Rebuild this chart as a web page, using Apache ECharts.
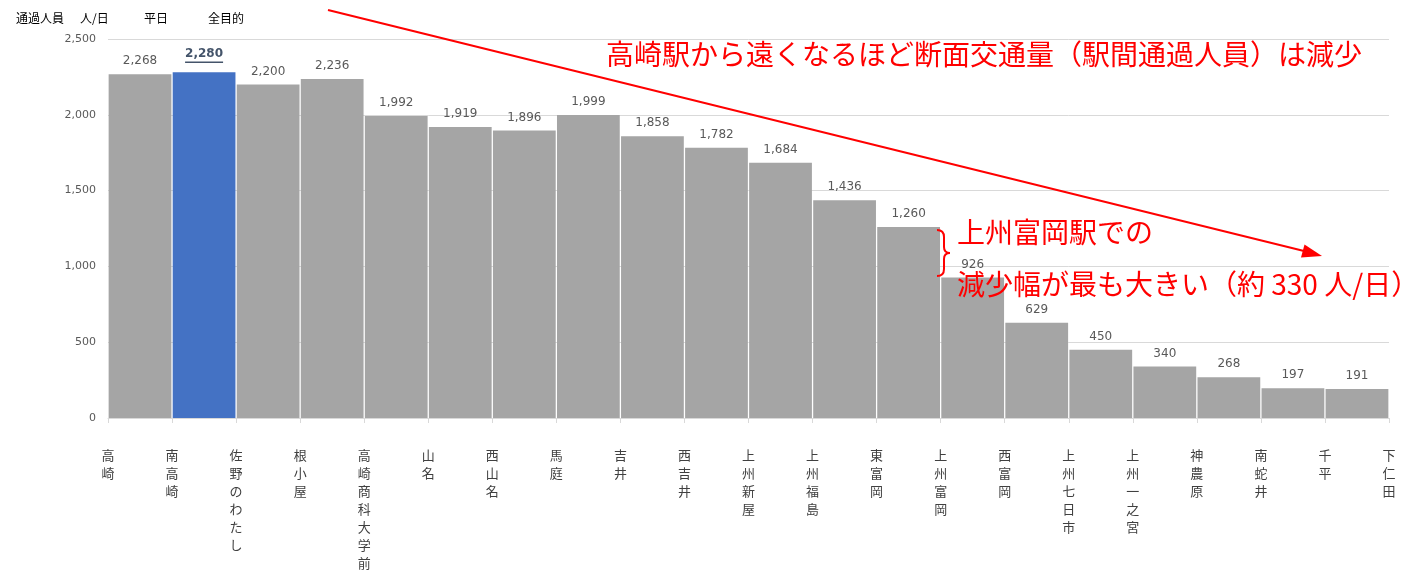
<!DOCTYPE html>
<html>
<head>
<meta charset="utf-8">
<script src="https://cdn.jsdelivr.net/npm/echarts@6/dist/echarts.min.js"></script>
<style>
  html, body { margin: 0; padding: 0; background: #fff; }
  #chart { width: 1408px; height: 571px; }
</style>
</head>
<body>
<div id="chart"></div>
<script>
  // 駅名（境界に表示）
  var stations = ['高崎', '南高崎', '佐野のわたし', '根小屋', '高崎商科大学前', '山名', '西山名', '馬庭', '吉井',
    '西吉井', '上州新屋', '上州福島', '東富岡', '上州富岡', '西富岡', '上州七日市', '上州一之宮', '神農原',
    '南蛇井', '千平', '下仁田'];
  // 駅間（バー）
  var sections = ['s1', 's2', 's3', 's4', 's5', 's6', 's7', 's8', 's9', 's10',
    's11', 's12', 's13', 's14', 's15', 's16', 's17', 's18', 's19', 's20'];
  var passengers = [2268, 2280, 2200, 2236, 1992, 1919, 1896, 1999, 1858, 1782,
    1684, 1436, 1260, 926, 629, 450, 340, 268, 197, 191];
  var highlightIndex = 1;
  var yTicks = { min: 0, max: 2500, interval: 500 };

  var FONT = '"Noto Sans CJK JP", "Noto Sans", sans-serif';
  var NUMFONT = '"DejaVu Sans", sans-serif';
  var RED = '#FF0000';

  function comma(v) {
    return String(v).replace(/\B(?=(\d{3})+(?!\d))/g, ',');
  }

  var barData = passengers.map(function (v, i) {
    if (i !== highlightIndex) return v;
    return {
      value: v,
      itemStyle: { color: '#4472C4' },
      label: {
        distance: 9,
        formatter: '{a|' + comma(v) + '}\n{u|}',
        rich: {
          a: { fontSize: 12, fontWeight: 'bold', color: '#44546A', fontFamily: NUMFONT, lineHeight: 15 },
          u: { width: 38, height: 1.5, backgroundColor: '#44546A', lineHeight: 2 }
        }
      }
    };
  });

  // 波かっこ
  function brace() {
    var st = { stroke: RED, lineWidth: 2, fill: null };
    return [
      { type: 'bezierCurve', z: 10, shape: { x1: 937, y1: 230, cpx1: 944, cpy1: 230, x2: 944, y2: 237 }, style: st },
      { type: 'line', z: 10, shape: { x1: 944, y1: 237, x2: 944, y2: 247 }, style: st },
      { type: 'bezierCurve', z: 10, shape: { x1: 944, y1: 247, cpx1: 944, cpy1: 253, x2: 950, y2: 253 }, style: st },
      { type: 'bezierCurve', z: 10, shape: { x1: 950, y1: 253, cpx1: 944, cpy1: 253, x2: 944, y2: 259 }, style: st },
      { type: 'line', z: 10, shape: { x1: 944, y1: 259, x2: 944, y2: 269 }, style: st },
      { type: 'bezierCurve', z: 10, shape: { x1: 944, y1: 269, cpx1: 944, cpy1: 276, x2: 937, y2: 276 }, style: st }
    ];
  }

  var myChart = echarts.init(document.getElementById('chart'));
  myChart.setOption({
    animation: false,
    backgroundColor: '#ffffff',
    grid: { left: 108, right: 19, top: 39, bottom: 153, outerBoundsMode: 'none', containLabel: false },
    xAxis: [{
      type: 'category',
      data: sections,
      axisLine: { lineStyle: { color: '#D9D9D9' } },
      axisTick: { show: true, length: 5, lineStyle: { color: '#D9D9D9' } },
      axisLabel: { show: false }
    }, {
      type: 'category',
      data: stations,
      position: 'bottom',
      boundaryGap: false,
      axisLine: { show: false },
      axisTick: { show: false },
      axisLabel: {
        interval: 0,
        margin: 28,
        fontSize: 13,
        lineHeight: 18,
        color: '#404040',
        fontFamily: FONT,
        formatter: function (s) { return s.split('').join('\n'); }
      }
    }],
    yAxis: {
      type: 'value',
      min: yTicks.min,
      max: yTicks.max,
      interval: yTicks.interval,
      axisLine: { show: false },
      axisTick: { show: false },
      splitLine: { lineStyle: { color: '#D9D9D9' } },
      axisLabel: {
        margin: 12,
        fontSize: 11,
        color: '#595959',
        fontFamily: NUMFONT,
        formatter: function (v) { return comma(v); }
      }
    },
    series: [{
      type: 'bar',
      xAxisIndex: 0,
      data: barData,
      barCategoryGap: '2%',
      itemStyle: { color: '#A5A5A5' },
      label: {
        show: true,
        position: 'top',
        distance: 7,
        fontSize: 12,
        color: '#595959',
        fontFamily: NUMFONT,
        formatter: function (p) { return comma(p.value); }
      }
    }],
    graphic: [
      { type: 'text', x: 16, y: 12, style: { text: '通過人員', fontSize: 12, fill: '#000', fontFamily: FONT } },
      { type: 'text', x: 80, y: 12, style: { text: '人/日', fontSize: 12, fill: '#000', fontFamily: FONT } },
      { type: 'text', x: 144, y: 12, style: { text: '平日', fontSize: 12, fill: '#000', fontFamily: FONT } },
      { type: 'text', x: 208, y: 12, style: { text: '全目的', fontSize: 12, fill: '#000', fontFamily: FONT } },
      {
        type: 'line', z: 10,
        shape: { x1: 328, y1: 10, x2: 1304, y2: 251 },
        style: { stroke: RED, lineWidth: 2 }
      },
      {
        type: 'polygon', z: 10,
        shape: { points: [[1322, 256], [1301, 257.5], [1304.5, 244.5]] },
        style: { fill: RED }
      },
      {
        type: 'text', z: 10, x: 606, y: 40,
        style: { text: '高崎駅から遠くなるほど断面交通量（駅間通過人員）は減少', fontSize: 28, fill: RED, fontFamily: FONT }
      },
      {
        type: 'text', z: 10, x: 957, y: 218,
        style: { text: '上州富岡駅での', fontSize: 28, fill: RED, fontFamily: FONT }
      },
      {
        type: 'text', z: 10, x: 957, y: 270,
        style: { text: '減少幅が最も大きい（約 330 人/日）', fontSize: 28, fill: RED, fontFamily: FONT }
      }
    ].concat(brace())
  });
</script>
</body>
</html>
